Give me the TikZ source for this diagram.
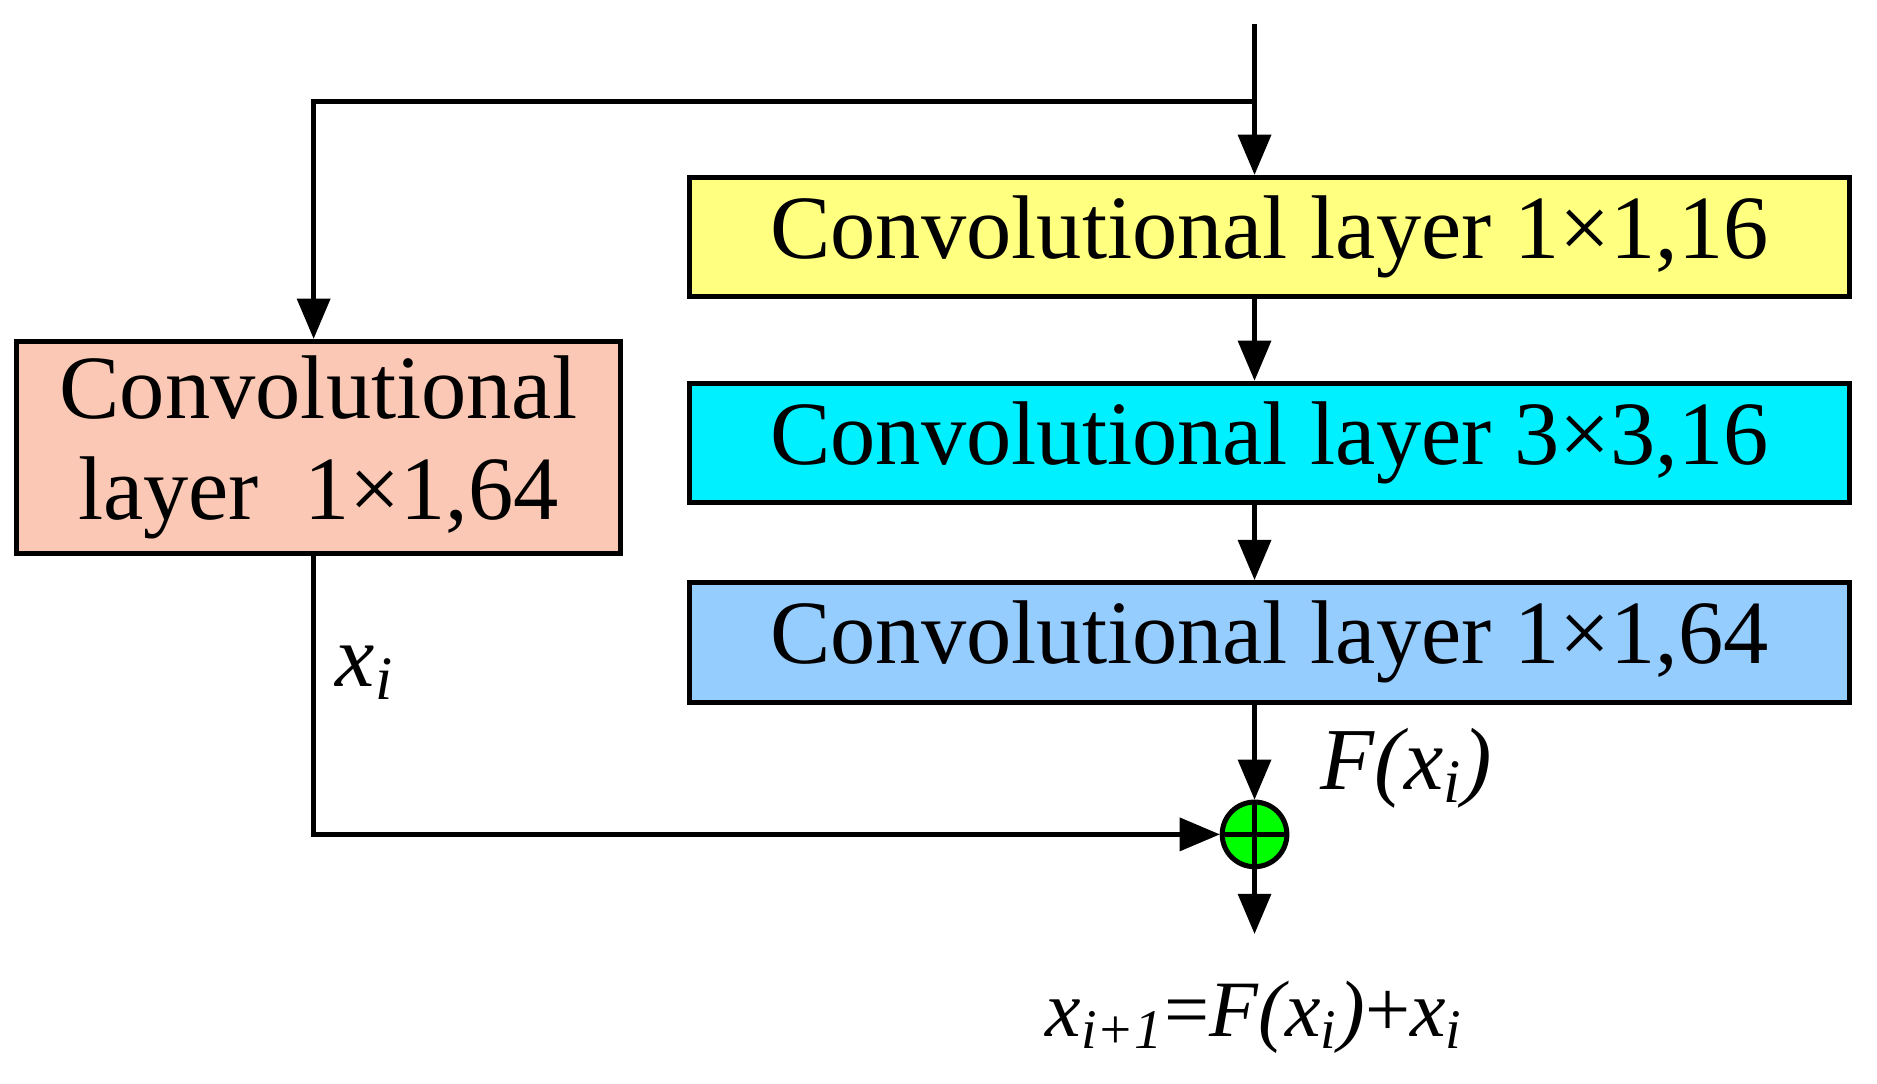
\documentclass[tikz,border=0pt]{standalone}
\usepackage{fontspec}
\setmainfont{Liberation Serif}
\usetikzlibrary{calc}
\usetikzlibrary{arrows,shapes}
\begin{document}
\begin{tikzpicture}[x=1cm,y=1cm,>=triangle 45,
  conv/.style={draw,line width=1.2pt,minimum height=1cm,inner sep=0pt,font=\fontsize{21.5}{24}\selectfont},
  sumnode/.style={circle,draw,line width=1.2pt,fill=green,minimum size=0.54cm,inner sep=0pt,
    path picture={\draw[line width=1.2pt] (path picture bounding box.north) -- (path picture bounding box.south)
      (path picture bounding box.west) -- (path picture bounding box.east);}},
  lab/.style={font=\fontsize{21}{24}\selectfont\itshape}]
\useasboundingbox (0,0) rectangle (15.68,-9.05);

  \definecolor{cyel}{RGB}{255,255,128}
  \definecolor{ccyan}{RGB}{0,240,255}
  \definecolor{cblue}{RGB}{150,205,255}
  \definecolor{csal}{RGB}{250,200,180}

    \coordinate (in) at (10.48,-0.2);
    \coordinate (split) at (10.48,-0.85);
    \coordinate (turn) at (2.62,-0.85);
    \coordinate (corner) at (2.62,-6.97);
    \coordinate (out) at (10.48,-7.8);

    \node[conv,fill=cyel,minimum width=9.69cm] (c1) at (10.605,-1.98) {Convolutional layer 1×1,16};
    \node[conv,fill=ccyan,minimum width=9.69cm] (c2) at (10.605,-3.70) {Convolutional layer 3×3,16};
    \node[conv,fill=cblue,minimum width=9.69cm] (c3) at (10.605,-5.365) {Convolutional layer 1×1,64};
    \node[conv,fill=csal,minimum width=5.04cm,minimum height=1.77cm,align=center] (c0) at (2.66,-3.735)
      {Convolutional\\layer\ \ 1×1,64};
    \node[sumnode] (s) at (10.48,-6.97) {};

    \node[lab] (xi) at (3.05,-5.62) {x\textsubscript{i}};
    \node[lab] (fx) at (11.75,-6.42) {F(x\textsubscript{i})};
    \node[lab,font=\fontsize{19}{22}\selectfont\itshape] (res) at (10.48,-8.5) {x\textsubscript{i+1}\upshape=\itshape F(x\textsubscript{i})\upshape+\itshape x\textsubscript{i}};

    \draw[line width=1.2pt,->] (in) -- (c1.north -| in);
    \draw[line width=1.2pt,->] (split) -- (turn) -- (c0.north -| turn);
    \draw[line width=1.2pt,->] (c1.south -| in) -- (c2.north -| in);
    \draw[line width=1.2pt,->] (c2.south -| in) -- (c3.north -| in);
    \draw[line width=1.2pt,->] (c3.south -| in) -- (s);
    \draw[line width=1.2pt,->] (c0.south -| turn) -- (corner) -- (s);
    \draw[line width=1.2pt,->] (s) -- (out);

 \end{tikzpicture}
\end{document}
